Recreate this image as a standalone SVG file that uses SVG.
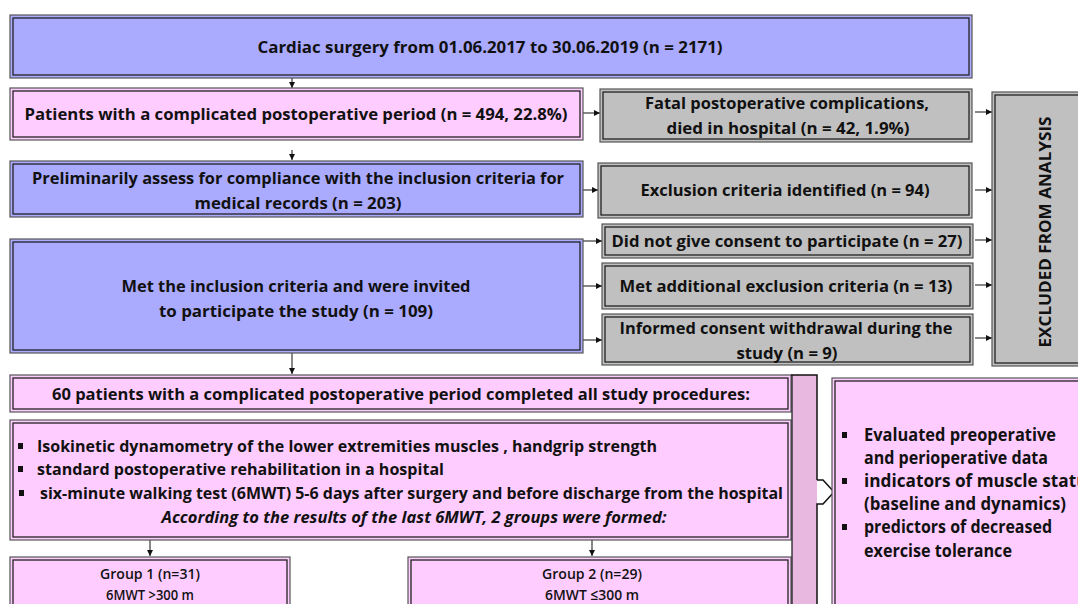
<svg xmlns="http://www.w3.org/2000/svg" width="1078" height="604" viewBox="0 0 1078 604">
<style>
.o{stroke:#555;stroke-width:1.2}
.i{fill:none;stroke:#222;stroke-width:1.3}
.blue{fill:#aaaaff}
.pink{fill:#ffccff}
.gray{fill:#c0c0c0}
.t{font-family:"Open Sans","Noto Sans","Liberation Sans",sans-serif;font-weight:bold;font-size:16px;fill:#111;text-anchor:middle}
.l{text-anchor:start}
.it{font-style:italic}
.g{font-weight:600;font-size:15px}
.r{font-size:17px}
.c{stroke:#111;stroke-width:1;fill:none;marker-end:url(#ah)}
.bul{fill:#111}
</style>
<defs>
<marker id="ah" markerUnits="userSpaceOnUse" markerWidth="7" markerHeight="7" refX="6" refY="3.5" orient="auto">
<path d="M0,0.5 L6,3.5 L0,6.5 Z" fill="#111"/>
</marker>
</defs>
<rect width="1078" height="604" fill="#fff"/>

<g id="connectors">
<line class="c" x1="292" y1="78" x2="292" y2="88"/>
<line class="c" x1="292" y1="150" x2="292" y2="160"/>
<line class="c" x1="292" y1="245" x2="292" y2="259"/>
<line class="c" x1="292" y1="353" x2="292" y2="374"/>
<line class="c" x1="583" y1="113" x2="600" y2="113"/>
<line class="c" x1="583" y1="190" x2="598" y2="190"/>
<line class="c" x1="583" y1="241" x2="602" y2="241"/>
<line class="c" x1="583" y1="286" x2="602" y2="286"/>
<line class="c" x1="583" y1="340" x2="602" y2="340"/>
<line class="c" x1="975" y1="112" x2="992" y2="112"/>
<line class="c" x1="975" y1="190" x2="992" y2="190"/>
<line class="c" x1="975" y1="240" x2="992" y2="240"/>
<line class="c" x1="975" y1="285" x2="992" y2="285"/>
<line class="c" x1="975" y1="338" x2="992" y2="338"/>
<line class="c" x1="150" y1="540" x2="150" y2="556"/>
<line class="c" x1="592" y1="540" x2="592" y2="556"/>
</g>

<g id="n-title">
<rect class="o blue" x="10" y="15" width="962" height="63"/>
<rect class="i" x="13" y="18" width="956" height="57"/>
<text class="t" x="490" y="53" textLength="465" lengthAdjust="spacingAndGlyphs">Cardiac surgery from 01.06.2017 to 30.06.2019 (n = 2171)</text>
</g>

<g id="n-patients">
<rect class="o pink" x="10" y="88" width="573" height="52"/>
<rect class="i" x="13" y="91" width="567" height="46"/>
<text class="t" x="296" y="120" textLength="543" lengthAdjust="spacingAndGlyphs">Patients with a complicated postoperative period (n = 494, 22.8%)</text>
</g>

<g id="n-fatal">
<rect class="o gray" x="600" y="89" width="372" height="53"/>
<rect class="i" x="603" y="92" width="366" height="47"/>
<text class="t" x="787" y="109" textLength="284" lengthAdjust="spacingAndGlyphs">Fatal postoperative complications,</text>
<text class="t" x="788" y="134" textLength="243" lengthAdjust="spacingAndGlyphs">died in hospital (n = 42, 1.9%)</text>
</g>

<g id="n-prelim">
<rect class="o blue" x="10" y="161" width="573" height="56"/>
<rect class="i" x="13" y="164" width="567" height="50"/>
<text class="t" x="298" y="184" textLength="532" lengthAdjust="spacingAndGlyphs">Preliminarily assess for compliance with the inclusion criteria for</text>
<text class="t" x="298" y="209" textLength="207" lengthAdjust="spacingAndGlyphs">medical records (n = 203)</text>
</g>

<g id="n-exclusion">
<rect class="o gray" x="598" y="163" width="374" height="55"/>
<rect class="i" x="601" y="166" width="368" height="49"/>
<text class="t" x="785" y="196" textLength="289" lengthAdjust="spacingAndGlyphs">Exclusion criteria identified (n = 94)</text>
</g>

<g id="n-met">
<rect class="o blue" x="10" y="239" width="573" height="114"/>
<rect class="i" x="13" y="242" width="567" height="108"/>
<text class="t" x="296" y="292" textLength="349" lengthAdjust="spacingAndGlyphs">Met the inclusion criteria and were invited</text>
<text class="t" x="296" y="317" textLength="274" lengthAdjust="spacingAndGlyphs">to participate the study (n = 109)</text>
</g>

<g id="n-didnot">
<rect class="o gray" x="602" y="224" width="371" height="34"/>
<rect class="i" x="605" y="227" width="365" height="28"/>
<text class="t" x="787" y="247" textLength="351" lengthAdjust="spacingAndGlyphs">Did not give consent to participate (n = 27)</text>
</g>

<g id="n-metadd">
<rect class="o gray" x="602" y="263" width="371" height="46"/>
<rect class="i" x="605" y="266" width="365" height="40"/>
<text class="t" x="786" y="292" textLength="333" lengthAdjust="spacingAndGlyphs">Met additional exclusion criteria (n = 13)</text>
</g>

<g id="n-informed">
<rect class="o gray" x="602" y="314" width="371" height="51"/>
<rect class="i" x="605" y="317" width="365" height="45"/>
<text class="t" x="786" y="334" textLength="333" lengthAdjust="spacingAndGlyphs">Informed consent withdrawal during the</text>
<text class="t" x="787" y="359" textLength="101" lengthAdjust="spacingAndGlyphs">study (n = 9)</text>
</g>

<g id="n-excluded">
<rect class="o gray" x="992" y="92" width="100" height="274"/>
<rect class="i" x="995" y="95" width="94" height="268"/>
<text class="t" transform="translate(1051,232) rotate(-90)" x="0" y="0" textLength="231" lengthAdjust="spacingAndGlyphs">EXCLUDED FROM ANALYSIS</text>
</g>

<g id="n-sixty">
<rect class="o pink" x="10" y="375" width="781" height="37"/>
<rect class="i" x="13" y="378" width="775" height="31"/>
<text class="t" x="401" y="400" textLength="698" lengthAdjust="spacingAndGlyphs">60 patients with a complicated postoperative period completed all study procedures:</text>
</g>

<g id="n-bullets">
<rect class="o pink" x="10" y="420" width="781" height="120"/>
<rect class="i" x="13" y="423" width="775" height="114"/>
<rect class="bul" x="18" y="443" width="5" height="6"/>
<rect class="bul" x="18" y="466" width="5" height="6"/>
<rect class="bul" x="19" y="490" width="5" height="6"/>
<text class="t l" x="37" y="452" textLength="620" lengthAdjust="spacingAndGlyphs">Isokinetic dynamometry of the lower extremities muscles , handgrip strength</text>
<text class="t l" x="37" y="475" textLength="407" lengthAdjust="spacingAndGlyphs">standard postoperative rehabilitation in a hospital</text>
<text class="t l" x="40" y="499" textLength="743" lengthAdjust="spacingAndGlyphs">six-minute walking test (6MWT) 5-6 days after surgery and before discharge from the hospital</text>
<text class="t it" x="414" y="523" textLength="505" lengthAdjust="spacingAndGlyphs">According to the results of the last 6MWT, 2 groups were formed:</text>
</g>

<g id="n-group1">
<rect class="o pink" x="10" y="557" width="280" height="60"/>
<rect class="i" x="13" y="560" width="274" height="54"/>
<text class="t g" x="150" y="579" textLength="100" lengthAdjust="spacingAndGlyphs">Group 1  (n=31)</text>
<text class="t g" x="150" y="600" textLength="88" lengthAdjust="spacingAndGlyphs">6MWT &gt;300 m</text>
</g>

<g id="n-group2">
<rect class="o pink" x="408" y="557" width="383" height="60"/>
<rect class="i" x="411" y="560" width="377" height="54"/>
<text class="t g" x="592" y="579" textLength="100" lengthAdjust="spacingAndGlyphs">Group 2 (n=29)</text>
<text class="t g" x="592" y="600" textLength="94" lengthAdjust="spacingAndGlyphs">6MWT ≤300 m</text>
</g>

<g id="block-arrow">
<rect x="792" y="375" width="25" height="235" fill="#e8b8e0"/>
<polyline points="791,375 817,375 817,480" fill="none" stroke="#111" stroke-width="1.5"/>
<polygon points="817,480 823,480 834,492 823,504 817,504" fill="#fff" stroke="none"/>
<polyline points="817,480 823,480 834,492 823,504 817,504 817,610" fill="none" stroke="#111" stroke-width="1.5"/>
<line x1="792" y1="375" x2="792" y2="610" stroke="#111" stroke-width="1.2"/>
</g>

<g id="n-right">
<rect class="o pink" x="832" y="378" width="260" height="240"/>
<rect class="i" x="835" y="381" width="254" height="234"/>
<rect class="bul" x="842" y="432" width="5" height="6"/>
<rect class="bul" x="842" y="478" width="5" height="6"/>
<rect class="bul" x="842" y="524" width="5" height="6"/>
<text class="t l r" x="864" y="441" textLength="192" lengthAdjust="spacingAndGlyphs">Evaluated preoperative</text>
<text class="t l r" x="864" y="464" textLength="184" lengthAdjust="spacingAndGlyphs">and perioperative data</text>
<text class="t l r" x="864" y="487" textLength="232" lengthAdjust="spacingAndGlyphs">indicators of muscle status</text>
<text class="t l r" x="864" y="510" textLength="202" lengthAdjust="spacingAndGlyphs">(baseline and dynamics)</text>
<text class="t l r" x="864" y="533" textLength="188" lengthAdjust="spacingAndGlyphs">predictors of decreased</text>
<text class="t l r" x="864" y="557" textLength="148" lengthAdjust="spacingAndGlyphs">exercise tolerance</text>
</g>
</svg>
